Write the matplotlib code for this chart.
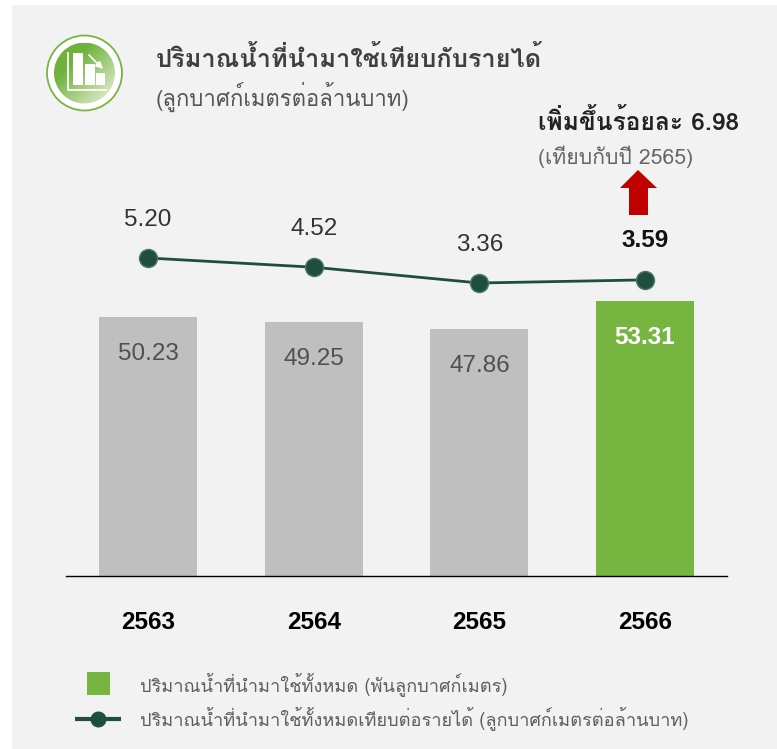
import numpy as np
import matplotlib
matplotlib.use('Agg')
import matplotlib.pyplot as plt
from matplotlib.patches import Circle, Rectangle, Polygon

W, H = 777, 749
thai = ['Loma', 'Sarabun', 'Noto Sans Thai', 'DejaVu Sans']
num = ['Liberation Sans', 'DejaVu Sans']
plt.rcParams['font.family'] = thai

years = ['2563', '2564', '2565', '2566']
water = [50.23, 49.25, 47.86, 53.31]
intensity = [5.20, 4.52, 3.36, 3.59]
water_labels = ['50.23', '49.25', '47.86', '53.31']
intensity_labels = ['5.20', '4.52', '3.36', '3.59']
bar_colors = ['#bfbfbf', '#bfbfbf', '#bfbfbf', '#76b53f']

title = 'ปริมาณน้ำที่นำมาใช้เทียบกับรายได้'
subtitle = '(ลูกบาศก์เมตรต่อล้านบาท)'
change = 'เพิ่มขึ้นร้อยละ 6.98'
change_sub = '(เทียบกับปี 2565)'
legend_bar = 'ปริมาณน้ำที่นำมาใช้ทั้งหมด (พันลูกบาศก์เมตร)'
legend_line = 'ปริมาณน้ำที่นำมาใช้ทั้งหมดเทียบต่อรายได้ (ลูกบาศก์เมตรต่อล้านบาท)'

def fx(x):
    return x / W
def fy(y):
    return 1 - y / H

fig = plt.figure(figsize=(W / 100, H / 100), dpi=100, facecolor='white')
fig.add_artist(Rectangle((fx(12), 0), 1, fy(5), transform=fig.transFigure, fc='#f2f2f2', ec='none', zorder=-5))

# main axes, baseline at y=576
ax = fig.add_axes([fx(66), fy(576), fx(661), fy(150) - fy(576)])
ax.patch.set_alpha(0)
x = np.arange(4)
ax.bar(x, water, width=0.592, color=bar_colors, zorder=2)
ax.set_xlim(-0.495, 3.495)
ax.set_ylim(0, 426 / 5.16)
ax.set_yticks([])
ax.set_xticks(x)
ax.set_xticklabels(years, fontsize=17.5, fontweight='bold', color='black', family=num)
ax.tick_params(axis='x', length=0, pad=25)
for s in ['top', 'left', 'right']:
    ax.spines[s].set_visible(False)
ax.spines['bottom'].set_linewidth(1.0)
ax.spines['bottom'].set_color('black')

for i in range(3):
    ax.annotate(water_labels[i], (x[i], water[i]), xytext=(0, -37), textcoords='offset pixels',
                ha='center', va='center', fontsize=17.5, color='#505050', family=num)
ax.annotate(water_labels[3], (x[3], water[3]), xytext=(0, -37), textcoords='offset pixels',
            ha='center', va='center', fontsize=17.5, color='white', fontweight='bold', family=num)

# line on its own scale
ax2 = ax.twinx()
ax2.patch.set_alpha(0)
ax2.set_ylim(3.36 - 293 / 13.6, 3.36 + 133 / 13.6)
ax2.set_yticks([])
for s in ax2.spines.values():
    s.set_visible(False)
ax2.plot(x, intensity, color='#1f4e3d', lw=2, marker='o', ms=13, mfc='#1f4e3d', mec='#4d7a68', mew=1, zorder=5)
for i in range(4):
    if i < 3:
        ax2.annotate(intensity_labels[i], (x[i], intensity[i]), xytext=(0, 38), textcoords='offset pixels',
                     ha='center', va='center', fontsize=17.5, color='#333333', family=num)
    else:
        ax2.annotate(intensity_labels[i], (x[i], intensity[i]), xytext=(0, 39), textcoords='offset pixels',
                     ha='center', va='center', fontsize=17.5, color='#111111', fontweight='bold', family=num)

# header text
fig.text(fx(156), fy(59), title, fontsize=18.3, fontweight='bold', color='#3f3f3f', ha='left', va='center')
fig.text(fx(156), fy(97), subtitle, fontsize=15.9, color='#555555', ha='left', va='center')
fig.text(fx(538), fy(122), change, fontsize=17.7, fontweight='bold', color='#222222', ha='left', va='center')
fig.text(fx(538), fy(157), change_sub, fontsize=15.3, color='#666666', ha='left', va='center')

# overlay in pixel coordinates for arrow, icon, legend keys
over = fig.add_axes([0, 0, 1, 1])
over.axis('off')
over.add_patch(Polygon([[638, 170], [657, 188], [648, 188], [648, 215], [629, 215], [629, 188], [620, 188]],
                       closed=True, fc='#c00000', ec='none'))

gx, gy = np.meshgrid(np.linspace(0, 1, 120), np.linspace(0, 1, 120))
grad = (gx + gy) / 2
c0 = np.array([0x6f, 0xb2, 0x3c]) / 255
c1 = np.array([0xdd, 0xea, 0xc8]) / 255
t = np.clip((grad - 0.3) / 0.6, 0, 1)[..., None]
im = over.imshow(c0 + (c1 - c0) * t, extent=(54, 115, 104, 43), zorder=2, aspect='auto')
over.set_xlim(0, W)
over.set_ylim(H, 0)
im.set_clip_path(Circle((84.5, 73), 30.5, transform=over.transData))
over.add_patch(Circle((84.5, 73), 37.5, fc='white', ec='#76b53f', lw=1.3, zorder=1))
for bx, by, bw, bh in [(73, 53, 10, 32), (85, 64, 10, 21), (96, 73, 9, 12)]:
    over.add_patch(Rectangle((bx, by), bw, bh, fc='white', ec='none', zorder=3))
over.plot([68, 68, 106], [53, 90, 90], color='white', lw=1.3, zorder=3)
over.annotate('', xy=(105, 71), xytext=(87, 53), zorder=3,
              arrowprops=dict(arrowstyle='-|>', color='white', lw=1.2))

# legend
over.add_patch(Rectangle((87, 672), 23, 23, fc='#76b53f', ec='none'))
over.plot([75, 121], [719, 719], color='#1f4e3d', lw=3, solid_capstyle='butt')
over.plot([98], [719], 'o', color='#1f4e3d', ms=10.5)
fig.text(fx(140), fy(684), legend_bar, fontsize=13.1, color='#5f5f5f', ha='left', va='center')
fig.text(fx(140), fy(718), legend_line, fontsize=13.1, color='#5f5f5f', ha='left', va='center')

fig.savefig('out.png', dpi=100, facecolor=fig.get_facecolor())
